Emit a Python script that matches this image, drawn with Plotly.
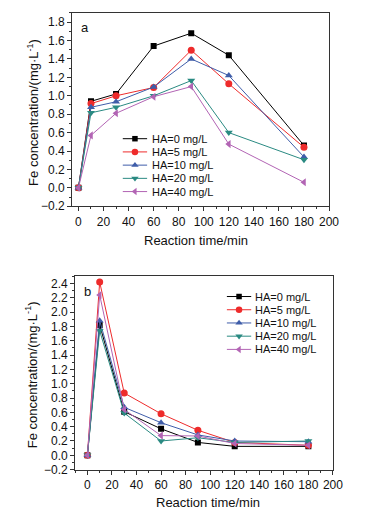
import plotly.graph_objects as go

time_min = [0, 10, 30, 60, 90, 120, 180]
series_names = ["HA=0 mg/L", "HA=5 mg/L", "HA=10 mg/L", "HA=20 mg/L", "HA=40 mg/L"]

# Panel a
a_ha0 = [0, 0.94, 1.02, 1.54, 1.68, 1.44, 0.46]
a_ha5 = [0, 0.915, 1.00, 1.09, 1.495, 1.13, 0.44]
a_ha10 = [0, 0.875, 0.935, 1.095, 1.40, 1.22, 0.335]
a_ha20 = [0, 0.815, 0.875, 1.00, 1.165, 0.60, 0.305]
a_ha40 = [0, 0.57, 0.81, 0.99, 1.10, 0.475, 0.06]

# Panel b
b_ha0 = [0, 1.82, 0.61, 0.37, 0.18, 0.125, 0.125]
b_ha5 = [0, 2.42, 0.87, 0.58, 0.35, 0.18, 0.14]
b_ha10 = [0, 1.88, 0.67, 0.455, 0.285, 0.20, 0.19]
b_ha20 = [0, 1.74, 0.59, 0.20, 0.245, 0.18, 0.20]
b_ha40 = [0, 2.24, 0.64, 0.275, 0.27, 0.165, 0.14]

colors = ["#000000", "#EE2B2B", "#3F5DA9", "#2A8A82", "#B264B4"]
symbols = ["square", "circle", "triangle-up", "triangle-down", "triangle-left"]
marker_sizes = [6, 7, 7, 7, 7]

W, H = 368, 515
font_family = "Liberation Sans, Arial, sans-serif"


def px_x(p):
    return p / W


def px_y(p):
    return 1 - p / H


fig = go.Figure()

for i, ys in enumerate([a_ha0, a_ha5, a_ha10, a_ha20, a_ha40]):
    fig.add_trace(go.Scatter(
        x=time_min, y=ys, name=series_names[i], mode="lines+markers",
        line=dict(color=colors[i], width=1),
        marker=dict(symbol=symbols[i], size=marker_sizes[i], color=colors[i]),
        xaxis="x", yaxis="y", showlegend=False,
    ))

for i, ys in enumerate([b_ha0, b_ha5, b_ha10, b_ha20, b_ha40]):
    fig.add_trace(go.Scatter(
        x=time_min, y=ys, name=series_names[i], mode="lines+markers",
        line=dict(color=colors[i], width=1),
        marker=dict(symbol=symbols[i], size=marker_sizes[i], color=colors[i]),
        xaxis="x2", yaxis="y2", showlegend=False,
    ))

# Manual compact legends on a pixel-space overlay axis
annotations = []
legend_specs = [
    dict(x0=118, x1=143, tx=146, y0=132.5),   # panel a
    dict(x0=225, x1=250, tx=252, y0=292.5),   # panel b
]
row_gap = 13.4
for spec in legend_specs:
    for i, name in enumerate(series_names):
        yy = spec["y0"] + row_gap * i
        fig.add_trace(go.Scatter(
            x=[spec["x0"], spec["x1"]], y=[yy, yy],
            mode="lines", line=dict(color=colors[i], width=1),
            xaxis="x3", yaxis="y3", showlegend=False, hoverinfo="skip",
        ))
        fig.add_trace(go.Scatter(
            x=[(spec["x0"] + spec["x1"]) / 2], y=[yy],
            mode="markers",
            marker=dict(symbol=symbols[i], size=marker_sizes[i] - 0.5, color=colors[i]),
            xaxis="x3", yaxis="y3", showlegend=False, hoverinfo="skip",
        ))
        annotations.append(dict(
            text=name, x=spec["tx"], y=yy, xref="x3", yref="y3", showarrow=False,
            xanchor="left", yanchor="middle", font=dict(size=11, family=font_family, color="#111111"),
        ))

axis_common = dict(
    showline=True, linecolor="#333333", linewidth=1, mirror=True,
    ticks="outside", ticklen=4, tickwidth=1, tickcolor="#333333",
    showgrid=False, zeroline=False,
    tickfont=dict(size=12, color="#111111", family=font_family),
)
minor_x = dict(dtick=10, ticks="outside", ticklen=2, tickcolor="#333333")
minor_y = dict(dtick=0.1, ticks="outside", ticklen=2, tickcolor="#333333")

fig.update_layout(
    width=W, height=H,
    margin=dict(l=0, r=0, t=0, b=0),
    paper_bgcolor="white", plot_bgcolor="rgba(0,0,0,0)",
    font=dict(family=font_family, color="#111111"),
    showlegend=False,
    xaxis=dict(domain=[px_x(66), px_x(330)], range=[-5, 200], dtick=20, minor=minor_x,
               anchor="y", **axis_common),
    yaxis=dict(domain=[px_y(201), px_y(5)], range=[-0.2, 1.9], dtick=0.2, tickformat=".1f",
               minor=minor_y, anchor="x", **axis_common),
    xaxis2=dict(domain=[px_x(69), px_x(334)], range=[-10, 200], dtick=20, minor=minor_x,
                anchor="y2", **axis_common),
    yaxis2=dict(domain=[px_y(468), px_y(272)], range=[-0.2, 2.5], dtick=0.2, tickformat=".1f",
                minor=minor_y, anchor="x2", **axis_common),
    xaxis3=dict(domain=[0, 1], range=[0, W], visible=False, fixedrange=True, anchor="y3"),
    yaxis3=dict(domain=[0, 1], range=[H, 0], visible=False, fixedrange=True, anchor="x3"),
)

ytitle = "Fe concentration/(mg·L<sup>-1</sup>)"
title_font = dict(size=13, family=font_family, color="#111111")
annotations += [
    dict(text="Reaction time/min", x=px_x(193), y=px_y(236), xref="paper", yref="paper",
         showarrow=False, font=title_font, xanchor="center", yanchor="middle"),
    dict(text="Reaction time/min", x=px_x(206), y=px_y(501), xref="paper", yref="paper",
         showarrow=False, font=title_font, xanchor="center", yanchor="middle"),
    dict(text=ytitle, x=px_x(25), y=px_y(106), xref="paper", yref="paper", textangle=-90,
         showarrow=False, font=title_font, xanchor="center", yanchor="middle"),
    dict(text=ytitle, x=px_x(24), y=px_y(372), xref="paper", yref="paper", textangle=-90,
         showarrow=False, font=title_font, xanchor="center", yanchor="middle"),
    dict(text="a", x=px_x(79), y=px_y(20), xref="paper", yref="paper",
         showarrow=False, font=title_font, xanchor="center", yanchor="middle"),
    dict(text="b", x=px_x(82), y=px_y(287), xref="paper", yref="paper",
         showarrow=False, font=title_font, xanchor="center", yanchor="middle"),
]
fig.update_layout(annotations=annotations)

fig.write_html("out.html")
